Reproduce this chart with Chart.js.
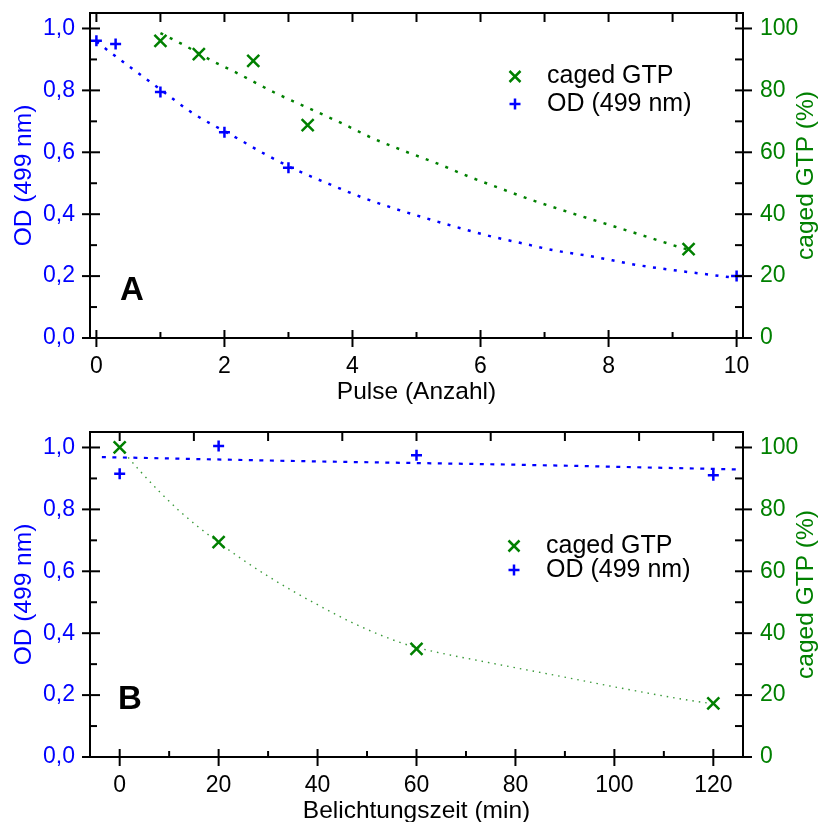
<!DOCTYPE html>
<html><head><meta charset="utf-8">
<script src="https://cdn.jsdelivr.net/npm/chart.js@4.4.1/dist/chart.umd.min.js"></script>
<style>
html,body{margin:0;padding:0;background:#fff;overflow:hidden;width:823px;height:822px;}
#c1{position:absolute;left:0;top:0;}
#c2{position:absolute;left:0;top:411px;}
</style></head><body>
<canvas id="c1" width="823" height="411"></canvas>
<canvas id="c2" width="823" height="430"></canvas>
<script>
// ---------- Panel A: pulses ----------
const pulseX      = [0, 0.3, 1, 2, 3, 10];
const pulseOD     = [0.96, 0.95, 0.795, 0.665, 0.55, 0.2];
const pulseGtpX   = [1, 1.6, 2.45, 3.3, 9.25];
const pulseGtp    = [96, 91.7, 89.5, 68.8, 28.7];
const pulseOdFitX = [0, 0.52, 1.0, 1.5, 2.16, 2.67, 3.14, 3.64, 4.14, 4.63, 5.13, 5.63, 6.13, 6.63, 7.13, 7.78, 8.44, 9.1, 9.8, 10];
const pulseOdFit  = [0.957, 0.876, 0.803, 0.727, 0.65, 0.59, 0.541, 0.497, 0.455, 0.42, 0.388, 0.358, 0.33, 0.307, 0.284, 0.262, 0.236, 0.217, 0.199, 0.194];
const pulseGtpFitX = [1.0, 1.37, 1.84, 2.16, 2.5, 2.81, 3.17, 3.83, 4.31, 4.81, 5.31, 5.8, 6.3, 6.8, 7.28, 7.97, 8.6, 9.1, 9.25];
const pulseGtpFit  = [98.5, 94.6, 89.2, 86.0, 82.3, 79.0, 75.6, 69.4, 64.6, 60.4, 56.5, 52.3, 48.4, 44.6, 41.3, 36.8, 32.7, 29.4, 28.5];
const pulseTicks      = [0, 2, 4, 6, 8, 10];
const pulseMinorTicks = [1, 3, 5, 7, 9];
const pulseTopTicks   = [0, 1, 2, 3, 4, 5, 6, 7, 8, 9, 10];

// ---------- Panel B: exposure time ----------
const timeX      = [0, 20, 60, 120];
const timeOD     = [0.915, 1.005, 0.975, 0.91];
const timeGtp    = [100, 69.4, 34.9, 17.3];
const timeOdFitX = [-3.6, 36.4, 81, 125];
const timeOdFit  = [0.969, 0.956, 0.944, 0.929];
const timeGtpFitX = [0, 4, 8, 12, 16, 20, 25, 30, 35, 40, 47, 56.5, 60.5, 74.3, 87.7, 101.2, 114.8, 120];
const timeGtpFit  = [100, 92.6, 85.8, 79.6, 74.2, 69.3, 63.6, 58.4, 53.6, 49.2, 43.4, 37.1, 35.2, 30.6, 26.5, 22.3, 18.4, 17.2];
const timeTicks      = [0, 20, 40, 60, 80, 100, 120];
const timeMinorTicks = [10, 30, 50, 70, 90, 110];
const timeTopTicks   = [0, 15, 30, 45, 60, 75, 90, 105, 120];

// ---------- shared axes ----------
const odTicks       = [0, 0.2, 0.4, 0.6, 0.8, 1.0];
const odTickLabels  = ['0,0', '0,2', '0,4', '0,6', '0,8', '1,0'];
const odMinorTicks  = [0.1, 0.3, 0.5, 0.7, 0.9];
const gtpTicks      = [0, 20, 40, 60, 80, 100];
const gtpTickLabels = ['0', '20', '40', '60', '80', '100'];
const gtpMinorTicks = [10, 30, 50, 70, 90];

const BLUE = '#0000ff', GREEN = '#008000';
const FAM = '"Liberation Sans", Arial, Helvetica, sans-serif';

const pts = (xs, ys) => xs.map((x, i) => ({x, y: ys[i]}));
const noPad = s => { s.paddingTop = 0; s.paddingBottom = 0; s.paddingLeft = 0; s.paddingRight = 0; };

const axisDecor = {
  id: 'axisDecor',
  afterDraw(chart, args, o) {
    const {ctx, chartArea: a, scales} = chart;
    const sx = scales.x, sy = scales.y, sy2 = scales.y2;
    ctx.save();
    ctx.strokeStyle = '#000';
    ctx.lineWidth = 2;
    ctx.lineCap = 'butt';
    const line = (x1, y1, x2, y2) => { ctx.beginPath(); ctx.moveTo(x1, y1); ctx.lineTo(x2, y2); ctx.stroke(); };
    ctx.strokeRect(a.left, a.top, a.right - a.left, a.bottom - a.top);
    o.xMajor.forEach(v => { const p = sx.getPixelForValue(v); line(p, a.bottom - 8, p, a.bottom + 9); });
    o.xMinor.forEach(v => { const p = sx.getPixelForValue(v); line(p, a.bottom - 6, p, a.bottom); });
    o.xTop.forEach(v => { const p = sx.getPixelForValue(v); line(p, a.top, p, a.top + 9); });
    o.yMajor.forEach(v => { const p = sy.getPixelForValue(v); line(a.left - 8, p, a.left + 10, p); });
    o.yMinor.forEach(v => { const p = sy.getPixelForValue(v); line(a.left, p, a.left + 7, p); });
    o.y2Major.forEach(v => { const p = sy2.getPixelForValue(v); line(a.right - 8, p, a.right + 9, p); });
    o.y2Minor.forEach(v => { const p = sy2.getPixelForValue(v); line(a.right - 8, p, a.right, p); });

    // right axis title (reads bottom-to-top)
    ctx.save();
    ctx.translate(o.rightTitleX, (a.top + a.bottom) / 2);
    ctx.rotate(-Math.PI / 2);
    ctx.fillStyle = GREEN;
    ctx.font = '24.5px ' + FAM;
    ctx.textAlign = 'center';
    ctx.textBaseline = 'middle';
    ctx.fillText(o.rightTitle, 0, 0);
    ctx.restore();

    // panel letter
    ctx.fillStyle = '#000';
    ctx.font = 'bold 33px ' + FAM;
    ctx.textAlign = 'center';
    ctx.textBaseline = 'middle';
    ctx.fillText(o.letter, a.left + o.letterDX, a.top + o.letterDY);

    // legend
    const items = chart.data.datasets.filter(d => d.inLegend);
    ctx.font = '25px ' + FAM;
    ctx.textAlign = 'left';
    items.forEach((d, i) => {
      const my = o.legY[i];
      ctx.strokeStyle = d.borderColor;
      ctx.lineWidth = 2.5;
      const h = 5.5;
      if (d.pointStyle === 'crossRot') {
        line(o.legMarkX - h, my - h, o.legMarkX + h, my + h);
        line(o.legMarkX - h, my + h, o.legMarkX + h, my - h);
      } else {
        line(o.legMarkX - h, my, o.legMarkX + h, my);
        line(o.legMarkX, my - h, o.legMarkX, my + h);
      }
      ctx.fillStyle = '#000';
      ctx.fillText(d.label, o.legTextX, my);
    });
    ctx.restore();
  }
};

function makeChart(id, p) {
  return new Chart(document.getElementById(id), {
    type: 'scatter',
    data: {
      datasets: [
        {label: 'caged GTP', inLegend: true, yAxisID: 'y2', data: pts(p.gx, p.gy),
         pointStyle: 'crossRot', pointRadius: 8.5, pointBorderWidth: 2.5,
         borderColor: GREEN, backgroundColor: GREEN},
        {label: 'OD (499 nm)', inLegend: true, yAxisID: 'y', data: pts(p.ox, p.oy),
         pointStyle: 'cross', pointRadius: 5.5, pointBorderWidth: 2.5,
         borderColor: BLUE, backgroundColor: BLUE},
        {label: 'gtp fit', yAxisID: 'y2', data: pts(p.gfx, p.gfy), showLine: true, pointRadius: 0,
         borderColor: p.gFitColor, borderWidth: p.gFitWidth, borderDash: p.gFitDash, fill: false,
         cubicInterpolationMode: 'monotone'},
        {label: 'od fit', yAxisID: 'y', data: pts(p.ofx, p.ofy), showLine: true, pointRadius: 0,
         borderColor: BLUE, borderWidth: p.oFitWidth, borderDash: p.oFitDash, fill: false,
         cubicInterpolationMode: 'monotone'}
      ]
    },
    options: {
      responsive: false,
      animation: false,
      events: [],
      layout: {padding: {top: p.padTop, left: 0, right: 0, bottom: 0}},
      plugins: {
        legend: {display: false},
        tooltip: {enabled: false},
        axisDecor: {
          xMajor: p.xTicks, xMinor: p.xMinor, xTop: p.xTop,
          yMajor: odTicks, yMinor: odMinorTicks, y2Major: gtpTicks, y2Minor: gtpMinorTicks,
          letter: p.letter, letterDX: p.letterDX, letterDY: p.letterDY,
          legMarkX: p.legMarkX, legTextX: p.legTextX, legY: p.legY,
          rightTitle: 'caged GTP (%)', rightTitleX: 806
        }
      },
      scales: {
        x: {
          type: 'linear', position: 'bottom', min: p.xMin, max: p.xMax,
          afterBuildTicks: s => { s.ticks = p.xTicks.map(v => ({value: v})); },
          afterFit: s => { s.height = p.xHeight; noPad(s); },
          grid: {display: false, drawTicks: false}, border: {display: false},
          ticks: {padding: 15, color: '#000', font: {size: 23, family: FAM}, callback: (v, i) => String(p.xTicks[i])},
          title: {display: true, text: p.xTitle, color: '#000', font: {size: 24.5, family: FAM}, padding: {top: 0, bottom: p.xTitlePad}}
        },
        y: {
          type: 'linear', position: 'left', min: 0, max: 1.05,
          afterBuildTicks: s => { s.ticks = odTicks.map(v => ({value: v})); },
          afterFit: s => { s.width = 90; noPad(s); },
          grid: {display: false, drawTicks: false}, border: {display: false},
          ticks: {padding: 15, color: BLUE, font: {size: 23, family: FAM}, callback: (v, i) => odTickLabels[i]},
          title: {display: true, text: 'OD (499 nm)', color: BLUE, font: {size: 24.5, family: FAM}, padding: {top: 10, bottom: 0}}
        },
        y2: {
          type: 'linear', position: 'right', min: 0, max: 105,
          afterBuildTicks: s => { s.ticks = gtpTicks.map(v => ({value: v})); },
          afterFit: s => { s.width = 80; noPad(s); },
          grid: {display: false, drawTicks: false}, border: {display: false},
          ticks: {padding: 17, color: GREEN, font: {size: 23, family: FAM}, callback: (v, i) => gtpTickLabels[i]}
        }
      }
    },
    plugins: [axisDecor]
  });
}

makeChart('c1', {
  gx: pulseGtpX, gy: pulseGtp, ox: pulseX, oy: pulseOD,
  gfx: pulseGtpFitX, gfy: pulseGtpFit, ofx: pulseOdFitX, ofy: pulseOdFit,
  gFitColor: GREEN, gFitWidth: 2.5, gFitDash: [3, 7.5], oFitWidth: 2.5, oFitDash: [3, 7.5],
  xMin: -0.1, xMax: 10.1, xTicks: pulseTicks, xMinor: pulseMinorTicks, xTop: pulseTopTicks,
  xTitle: 'Pulse (Anzahl)', xTitlePad: 4, xHeight: 73, padTop: 13,
  letter: 'A', letterDX: 42, letterDY: 278,
  legMarkX: 515, legTextX: 547, legY: [76.5, 104]
});

makeChart('c2', {
  gx: timeX, gy: timeGtp, ox: timeX, oy: timeOD,
  gfx: timeGtpFitX, gfy: timeGtpFit, ofx: timeOdFitX, ofy: timeOdFit,
  gFitColor: '#3a9a3a', gFitWidth: 1.4, gFitDash: [1.5, 5], oFitWidth: 2.2, oFitDash: [4, 6.5],
  xMin: -6, xMax: 126, xTicks: timeTicks, xMinor: timeMinorTicks, xTop: timeTopTicks,
  xTitle: 'Belichtungszeit (min)', xTitlePad: 15, xHeight: 84, padTop: 21,
  letter: 'B', letterDX: 40, letterDY: 268,
  legMarkX: 514, legTextX: 546, legY: [135, 159]
});
</script>
</body></html>
